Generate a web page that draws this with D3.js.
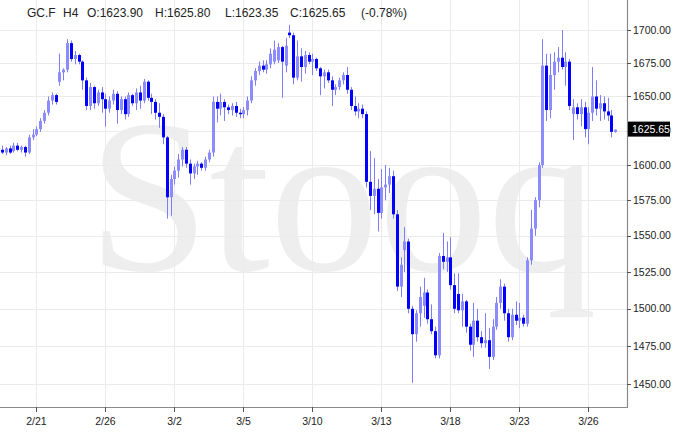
<!DOCTYPE html>
<html><head><meta charset="utf-8">
<script src="https://cdn.jsdelivr.net/npm/d3@7/dist/d3.min.js"></script>
<style>html,body{margin:0;padding:0;background:#fff;}svg{display:block;}</style>
</head><body>
<script>
const opens  = [1611,1609,1612,1610,1614,1611,1613,1609,1620,1622,1626,1632,1638,1647,1651,1661,1668,1670,1690,1678,1681,1676,1662,1643,1657,1645,1653,1648,1641,1647,1652,1640,1648,1637,1651,1645,1653,1647,1661,1649,1646,1638,1635,1620,1577,1590,1596,1604,1611,1601,1594,1599,1601,1598,1604,1609,1646,1641,1646,1642,1640,1643,1638,1637,1640,1647,1662,1669,1673,1670,1674,1676,1677,1687,1673,1698,1696,1664,1680,1672,1681,1676,1678,1671,1665,1668,1662,1655,1657,1662,1666,1655,1643,1639,1641,1637,1588,1578,1583,1566,1584,1586,1592,1565,1515,1540,1546,1500,1483,1497,1502,1511,1493,1485,1469,1536,1532,1535,1516,1510,1499,1505,1488,1476,1492,1481,1477,1479,1468,1488,1504,1515,1497,1481,1496,1492,1494,1490,1533,1555,1575,1600,1673,1640,1666,1676,1679,1672,1676,1637,1642,1637,1642,1626,1638,1650,1641,1645,1639,1636,1623.90];
const highs  = [1614,1613,1614,1616,1616,1614,1614,1622,1626,1628,1634,1640,1650,1653,1652,1682,1671,1693,1692,1684,1682,1677,1664,1660,1658,1655,1657,1652,1650,1655,1654,1650,1650,1653,1652,1656,1658,1663,1662,1652,1648,1645,1637,1621,1593,1599,1608,1613,1613,1604,1601,1603,1602,1606,1611,1650,1650,1652,1648,1644,1645,1646,1641,1642,1650,1665,1671,1676,1677,1677,1686,1692,1690,1688,1694,1704,1698,1692,1686,1684,1683,1682,1679,1672,1670,1670,1665,1659,1664,1668,1672,1657,1650,1645,1644,1639,1610,1605,1590,1597,1600,1598,1596,1568,1535,1556,1548,1502,1499,1515,1521,1513,1503,1488,1538,1552,1546,1549,1524,1524,1510,1506,1490,1504,1500,1485,1497,1487,1493,1508,1520,1517,1500,1500,1505,1504,1496,1535,1568,1577,1602,1693,1682,1682,1683,1687,1700,1683,1678,1648,1645,1648,1646,1642,1672,1662,1651,1650,1649,1640,1625.80];
const lows   = [1608,1607,1608,1609,1610,1609,1606,1608,1618,1621,1624,1630,1636,1644,1644,1658,1662,1668,1676,1674,1674,1655,1640,1640,1641,1643,1638,1628,1638,1644,1630,1637,1633,1635,1643,1640,1641,1645,1647,1637,1633,1627,1615,1562,1564,1586,1591,1599,1598,1586,1590,1593,1596,1596,1602,1606,1631,1636,1632,1637,1636,1635,1634,1634,1636,1645,1658,1666,1668,1667,1671,1674,1675,1649,1668,1694,1659,1662,1661,1667,1674,1666,1669,1651,1656,1660,1643,1651,1655,1659,1652,1640,1636,1634,1634,1584,1568,1565,1553,1562,1575,1580,1562,1512,1508,1525,1497,1451,1478,1488,1494,1490,1483,1467,1467,1527,1525,1513,1497,1497,1488,1484,1472,1468,1478,1474,1474,1460,1466,1486,1500,1492,1478,1479,1489,1487,1488,1488,1530,1550,1570,1598,1632,1634,1655,1668,1670,1658,1640,1618,1633,1628,1620,1615,1632,1636,1632,1633,1632,1620,1623.35];
const closes = [1609,1612,1609,1614,1611,1613,1609,1620,1622,1626,1632,1638,1647,1651,1646,1668,1670,1690,1678,1681,1676,1662,1643,1657,1645,1653,1648,1641,1647,1652,1640,1648,1637,1651,1645,1653,1647,1661,1649,1646,1638,1635,1620,1577,1590,1596,1604,1611,1601,1594,1599,1601,1598,1604,1609,1646,1641,1646,1642,1640,1643,1638,1637,1640,1647,1662,1669,1673,1670,1674,1682,1685,1687,1676,1688,1696,1664,1680,1672,1681,1676,1678,1671,1665,1668,1662,1655,1657,1662,1666,1655,1643,1639,1641,1637,1588,1578,1583,1566,1584,1586,1592,1565,1515,1530,1546,1500,1483,1497,1508,1511,1493,1485,1469,1536,1532,1535,1516,1500,1499,1505,1488,1476,1492,1481,1477,1479,1468,1488,1504,1515,1497,1481,1496,1492,1494,1490,1533,1555,1575,1600,1673,1640,1666,1676,1679,1672,1676,1643,1642,1637,1642,1626,1638,1650,1641,1645,1639,1636,1624,1625.65];

const tickLabels = ["2/21","2/26","3/2","3/5","3/10","3/13","3/18","3/23","3/26"];
const tickIndex  = [9,27,45,63,81,99,117,135,153];
const priceTicks = [1450,1475,1500,1525,1550,1575,1600,1625,1650,1675,1700];
const lastPrice = 1625.65;
const headerParts = ["GC.F","H4","O:1623.90","H:1625.80","L:1623.35","C:1625.65","(-0.78%)"];

const W = 687, H = 436;
const plotRight = 627, plotBottom = 407;
const svg = d3.select("body").append("svg").attr("width", W).attr("height", H)
  .style("font-family","'Liberation Sans', Arial, sans-serif");

const x = d3.scaleLinear().domain([0, opens.length - 1]).range([2, 615.3]);
const y = d3.scaleLog().domain([1450, 1700]).range([384.3, 30]);

// watermark
svg.append("text").attr("x", 88).attr("y", 270)
  .attr("font-family", "'Liberation Serif', 'Times New Roman', serif")
  .attr("font-size", 218).attr("fill", "#eeeeee").text("Stooq");

// grid
const grid = svg.append("g");
grid.selectAll(".hg").data(priceTicks).join("line")
  .attr("x1", 0).attr("x2", plotRight)
  .attr("y1", d => Math.round(y(d)) + 0.5).attr("y2", d => Math.round(y(d)) + 0.5)
  .attr("stroke", "#ebebeb").attr("stroke-width", 1);
grid.selectAll(".vg").data(tickIndex).join("line")
  .attr("x1", d => Math.round(x(d)) + 0.5).attr("x2", d => Math.round(x(d)) + 0.5)
  .attr("y1", 0).attr("y2", plotBottom)
  .attr("stroke", "#ebebeb").attr("stroke-width", 1);

// candles
const idx = d3.range(opens.length);
const up = i => closes[i] >= opens[i];
const cg = svg.append("g");
cg.selectAll(".wick").data(idx).join("line")
  .attr("x1", i => Math.round(x(i)) + 0.5).attr("x2", i => Math.round(x(i)) + 0.5)
  .attr("y1", i => y(highs[i])).attr("y2", i => y(lows[i]))
  .attr("stroke", "#7d7dff").attr("stroke-width", 1);
cg.selectAll(".body").data(idx).join("rect")
  .attr("x", i => Math.round(x(i)) - 1)
  .attr("width", 3)
  .attr("y", i => y(Math.max(opens[i], closes[i])))
  .attr("height", i => Math.max(1.5, Math.abs(y(opens[i]) - y(closes[i]))))
  .attr("fill", i => up(i) ? "#8c8cff" : "#0000ff");

// right axis
svg.append("line").attr("x1", plotRight + 0.5).attr("x2", plotRight + 0.5)
  .attr("y1", 0).attr("y2", plotBottom + 1).attr("stroke", "#8a8a8a").attr("stroke-width", 1.2);
const ra = svg.append("g");
ra.selectAll("line").data(priceTicks).join("line")
  .attr("x1", plotRight).attr("x2", plotRight + 4)
  .attr("y1", d => Math.round(y(d)) + 0.5).attr("y2", d => Math.round(y(d)) + 0.5)
  .attr("stroke", "#555");
ra.selectAll("text").data(priceTicks).join("text")
  .attr("x", plotRight + 6).attr("y", d => y(d)).attr("dy", "0.35em")
  .attr("font-size", 10.5).attr("fill", "#222").text(d => d3.format(".2f")(d));

// last price box
const ly = y(lastPrice);
svg.append("rect").attr("x", plotRight + 1).attr("y", ly - 8).attr("width", 42).attr("height", 15).attr("fill", "#000");
svg.append("text").attr("x", plotRight + 5).attr("y", ly).attr("dy", "0.35em")
  .attr("font-size", 10.5).attr("fill", "#fff").text(d3.format(".2f")(lastPrice));

// bottom axis
svg.append("line").attr("x1", 0).attr("x2", plotRight + 1)
  .attr("y1", plotBottom + 0.5).attr("y2", plotBottom + 0.5).attr("stroke", "#8a8a8a").attr("stroke-width", 1.2);
const ba = svg.append("g");
ba.selectAll("line").data(tickIndex).join("line")
  .attr("x1", d => Math.round(x(d)) + 0.5).attr("x2", d => Math.round(x(d)) + 0.5)
  .attr("y1", plotBottom).attr("y2", plotBottom + 5).attr("stroke", "#555");
ba.selectAll("text").data(tickIndex).join("text")
  .attr("x", d => x(d)).attr("y", plotBottom + 18)
  .attr("text-anchor", "middle").attr("font-size", 10.5).attr("fill", "#222")
  .text((d, i) => tickLabels[i]);

// header
const hx = [27, 63, 87, 155, 225, 290, 361];
svg.append("g").selectAll("text").data(headerParts).join("text")
  .attr("x", (d, i) => hx[i]).attr("y", 17)
  .attr("font-size", 12).attr("fill", "#222").text(d => d);
</script>
</body></html>
